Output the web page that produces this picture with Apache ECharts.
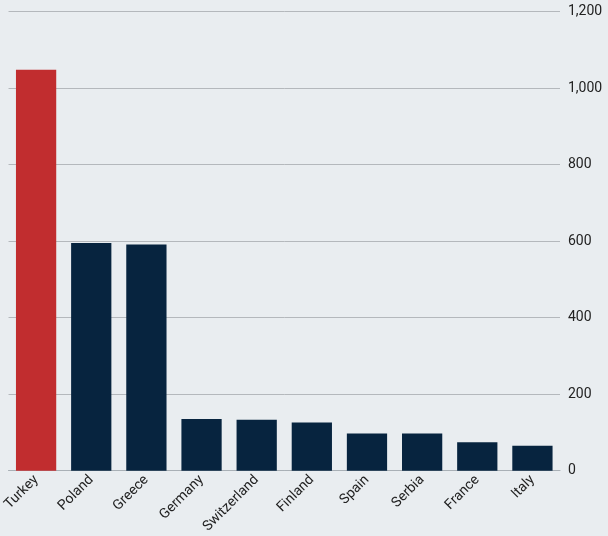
<!DOCTYPE html>
<html>
<head>
<meta charset="utf-8">
<script src="https://cdn.jsdelivr.net/npm/echarts@6/dist/echarts.min.js"></script>
<style>
html,body{margin:0;padding:0;background:#e9edf0;}
#c{width:608px;height:536px;}
</style>
</head>
<body>
<div id="c"></div>
<script>
const categories = ["Turkey","Poland","Greece","Germany","Switzerland","Finland","Spain","Serbia","France","Italy"];
const values = [1048, 595, 591, 135, 133, 126, 97, 97, 74, 65];
const yTicks = [0, 200, 400, 600, 800, 1000, 1200];
const highlightColor = "#c12d2f";
const baseColor = "#07243f";

const chart = echarts.init(document.getElementById('c'), null, {renderer:'canvas'});
chart.setOption({
  backgroundColor: '#e9edf0',
  animation: false,
  grid: {left: 8, right: 48, top: 11.5, bottom: 63.5, containLabel: false},
  xAxis: {
    type: 'category',
    data: categories,
    axisLine: {show: true, lineStyle: {color: '#a9b0b6', width: 1}},
    axisTick: {show: false},
    axisLabel: {rotate: 45, color: '#222', fontFamily: 'Roboto', fontSize: 14, margin: 7, interval: 0}
  },
  yAxis: {
    type: 'value',
    position: 'right',
    min: yTicks[0],
    max: yTicks[yTicks.length-1],
    interval: 200,
    axisLine: {show: false},
    axisTick: {show: false},
    splitLine: {lineStyle: {color: '#b4b8bc', width: 1}},
    axisLabel: {color: '#222', fontFamily: 'Roboto', fontSize: 14, margin: 8,
      formatter: v => v.toLocaleString('en-US')}
  },
  series: [{
    type: 'bar',
    data: values.map((v, i) => ({value: v, itemStyle: {color: i === 0 ? highlightColor : baseColor}})),
    barCategoryGap: '27%'
  }]
});
</script>
</body>
</html>
